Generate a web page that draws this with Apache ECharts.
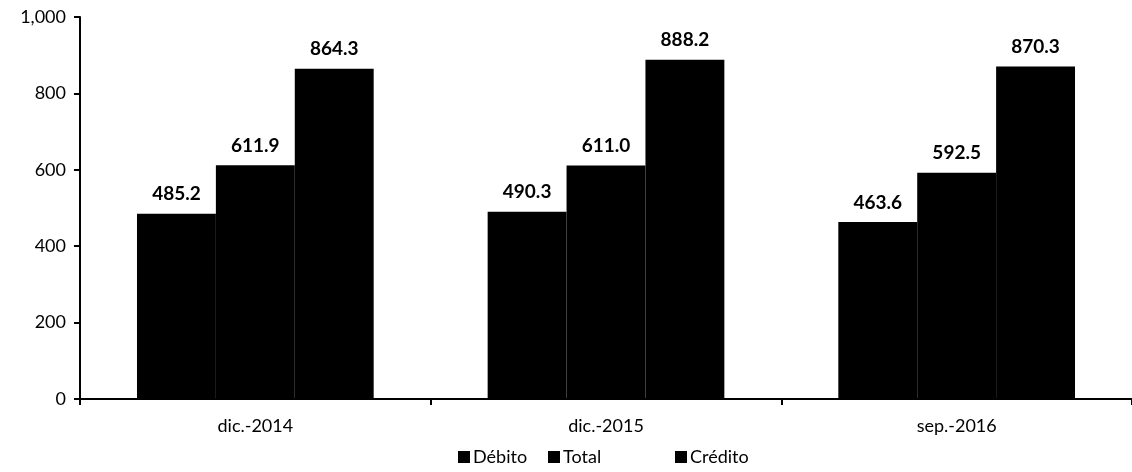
<!DOCTYPE html>
<html>
<head>
<meta charset="utf-8">
<script src="https://cdn.jsdelivr.net/npm/echarts@6/dist/echarts.min.js"></script>
<style>
  html, body { margin: 0; padding: 0; background: #fff; }
  #chart { width: 1132px; height: 472px; }
</style>
</head>
<body>
<div id="chart"></div>
<script>
const categories = ['dic.-2014', 'dic.-2015', 'sep.-2016'];
const debito = [485.2, 490.3, 463.6];
const total = [611.9, 611.0, 592.5];
const credito = [864.3, 888.2, 870.3];
const seriesNames = ['Débito', 'Total', 'Crédito'];

const font = 'Lato, "Open Sans", sans-serif';
// legend item x positions, spaced like the original (uneven gaps)
const legendLeft = [453, 543, 670];

function barSeries(name, data) {
    return {
        name: name,
        type: 'bar',
        data: data,
        barGap: '0%',
        barCategoryGap: '32.5%',
        itemStyle: { color: '#000' },
        label: {
            show: true,
            position: 'top',
            distance: 10,
            color: '#000',
            fontFamily: font,
            fontWeight: 'bold',
            fontSize: 19,
            formatter: (p) => p.value.toFixed(1)
        }
    };
}

const chart = echarts.init(document.getElementById('chart'));
chart.setOption({
    animation: false,
    grid: { left: 80, right: -4, top: 17, bottom: 73 },
    legend: seriesNames.map((n, i) => ({
        bottom: 1,
        left: legendLeft[i],
        itemWidth: 12,
        itemHeight: 12,
        itemGap: 4,
        icon: 'rect',
        data: [n],
        textStyle: { color: '#000', fontFamily: font, fontSize: 18, padding: [0, 0, 0, -2] }
    })),
    xAxis: {
        type: 'category',
        data: categories,
        axisLine: { lineStyle: { color: '#000', width: 2 } },
        axisTick: { show: true, length: 6, lineStyle: { color: '#000', width: 2 } },
        axisLabel: { color: '#000', fontFamily: font, fontSize: 18, margin: 18 }
    },
    yAxis: {
        type: 'value',
        min: 0,
        max: 1000,
        interval: 200,
        splitLine: { show: false },
        axisLine: { show: true, lineStyle: { color: '#000', width: 2 } },
        axisTick: { show: true, length: 6, lineStyle: { color: '#000', width: 2 } },
        axisLabel: {
            color: '#000', fontFamily: font, fontSize: 18, margin: 14,
            formatter: (v) => v.toLocaleString('en-US')
        }
    },
    series: [
        barSeries(seriesNames[0], debito),
        barSeries(seriesNames[1], total),
        barSeries(seriesNames[2], credito)
    ]
});
</script>
</body>
</html>
